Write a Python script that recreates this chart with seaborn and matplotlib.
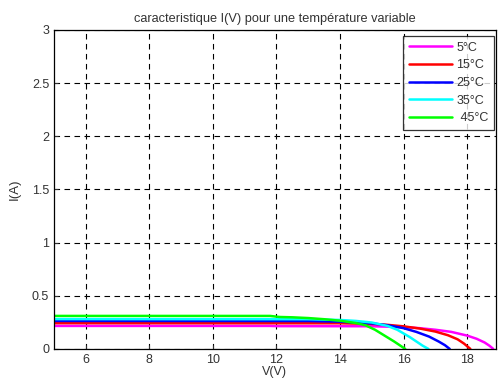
import matplotlib
matplotlib.use("Agg")
import matplotlib.pyplot as plt
import seaborn as sns
import pandas as pd

# I(V) curves of a PV module for several cell temperatures
temps = ["5°C", "15°C", "25°C", "35°C", " 45°C"]
colors = ["#ff00ff", "#ff0000", "#0000ff", "#00ffff", "#00ff00"]

v_5 = [5, 11.8, 12.0, 15.0, 16.0, 16.5, 17.0, 17.5, 18.0, 18.3, 18.55, 18.7, 18.82]
i_5 = [0.216, 0.216, 0.214, 0.213, 0.205, 0.195, 0.180, 0.160, 0.125, 0.095, 0.060, 0.030, 0.0]

v_15 = [5, 14.0, 15.0, 15.5, 16.0, 16.5, 17.0, 17.4, 17.7, 17.9, 18.1]
i_15 = [0.242, 0.241, 0.235, 0.226, 0.212, 0.192, 0.163, 0.128, 0.090, 0.050, 0.0]

v_25 = [5, 13.0, 14.0, 15.0, 15.5, 16.0, 16.4, 16.8, 17.1, 17.3, 17.45]
i_25 = [0.263, 0.262, 0.256, 0.240, 0.222, 0.195, 0.160, 0.116, 0.070, 0.035, 0.0]

v_35 = [5, 13.0, 14.0, 14.5, 15.0, 15.5, 15.8, 16.0, 16.2, 16.4, 16.6, 16.78]
i_35 = [0.280, 0.279, 0.272, 0.263, 0.248, 0.215, 0.180, 0.145, 0.110, 0.070, 0.030, 0.0]

v_45 = [5, 11.8, 12.1, 12.5, 13.0, 13.5, 14.0, 14.5, 14.8, 15.1, 15.4, 15.7, 15.9, 16.05]
i_45 = [0.310, 0.310, 0.300, 0.297, 0.290, 0.279, 0.265, 0.243, 0.222, 0.180, 0.125, 0.070, 0.030, 0.0]

x_ticks = [6, 8, 10, 12, 14, 16, 18]
y_ticks = [0, 0.5, 1, 1.5, 2, 2.5, 3]
y_tick_labels = ["0", "0.5", "1", "1.5", "2", "2.5", "3"]

series = [(temps[0], v_5, i_5), (temps[1], v_15, i_15), (temps[2], v_25, i_25),
          (temps[3], v_35, i_35), (temps[4], v_45, i_45)]
frames = [pd.DataFrame({"V": v, "I": i, "T": t}) for t, v, i in series]
df = pd.concat(frames, ignore_index=True)

sns.set_theme(style="ticks")
plt.rcParams["font.family"] = ["Liberation Sans", "DejaVu Sans"]

fig = plt.figure(figsize=(4.98, 3.78), dpi=100)
ax = fig.add_axes([0.1085, 0.077, 0.887, 0.844])

sns.lineplot(data=df, x="V", y="I", hue="T", hue_order=temps,
             palette=dict(zip(temps, colors)), sort=False, estimator=None,
             linewidth=1.8, legend=False, ax=ax)

ax.set_xlim(5, 18.9)
ax.set_ylim(0, 3)
ax.set_xticks(x_ticks)
ax.set_xticklabels([str(t) for t in x_ticks])
ax.set_yticks(y_ticks)
ax.set_yticklabels(y_tick_labels)
ax.grid(True, linestyle=(0, (5, 4)), color="black", linewidth=0.8)
ax.tick_params(direction="in", length=3, labelsize=9, colors="#333333", width=0.8)
for s in ax.spines.values():
    s.set_color("black")
    s.set_linewidth(0.9)

ax.set_title("caracteristique I(V) pour une température variable",
             fontsize=9.2, color="#333333", pad=6)
ax.set_xlabel("V(V)", fontsize=9, color="#333333", labelpad=0)
ax.set_ylabel("I(A)", fontsize=9.5, color="#333333", labelpad=8)

handles = ax.get_lines()[:len(temps)]
leg = ax.legend(handles, temps, loc="upper right", fontsize=9,
                handlelength=3.4, handletextpad=0.4, labelspacing=0.45,
                borderpad=0.45, borderaxespad=0.0, frameon=True, fancybox=False,
                bbox_to_anchor=(0.995, 0.98))
leg.get_frame().set_edgecolor("black")
leg.get_frame().set_linewidth(0.9)
for t in leg.get_texts():
    t.set_color("#333333")

fig.savefig("out.png", dpi=100)
